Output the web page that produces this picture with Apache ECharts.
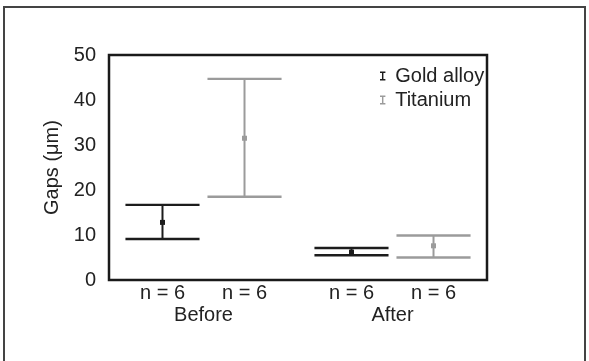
<!DOCTYPE html>
<html>
<head>
<meta charset="utf-8">
<style>html,body{margin:0;padding:0;background:#fff;}#c{width:589px;height:361px;}</style>
<script src="https://cdn.jsdelivr.net/npm/echarts@6/dist/echarts.min.js"></script>
</head>
<body>
<div id="c"></div>
<script>
var categories = ['Before', 'After'];
var goldMean = [12.8, 6.2];
var goldLow = [9.1, 5.5];
var goldHigh = [16.7, 7.1];
var tiMean = [31.5, 7.6];
var tiLow = [18.5, 5.0];
var tiHigh = [44.7, 9.9];
var goldN = [6, 6];
var tiN = [6, 6];
var yTicks = [0, 10, 20, 30, 40, 50];

var FONT = '"Liberation Sans", Arial, sans-serif';
var GOLD = '#1c1c1c';
var TI = '#9b9b9b';

function makeData(mean, low, high, n) {
  return categories.map(function (c, i) { return [i, low[i], mean[i], high[i], n[i]]; });
}

function makeRender(side, color) {
  return function (params, api) {
    var xi = api.value(0);
    var band = api.size([1, 0])[0];
    var off = side * 0.217 * band;
    var half = 0.196 * band;
    var pLow = api.coord([xi, api.value(1)]);
    var pMean = api.coord([xi, api.value(2)]);
    var pHigh = api.coord([xi, api.value(3)]);
    var pZero = api.coord([xi, 0]);
    var cx = pLow[0] + off;
    var ls = { stroke: color, lineWidth: 2.4, fill: null };
    return {
      type: 'group',
      children: [
        { type: 'line', shape: { x1: cx, y1: pLow[1], x2: cx, y2: pHigh[1] }, style: { stroke: color, lineWidth: 2 } },
        { type: 'line', shape: { x1: cx - half, y1: pLow[1], x2: cx + half, y2: pLow[1] }, style: ls },
        { type: 'line', shape: { x1: cx - half, y1: pHigh[1], x2: cx + half, y2: pHigh[1] }, style: ls },
        { type: 'rect', shape: { x: cx - 2.5, y: pMean[1] - 2.5, width: 5, height: 5 }, style: { fill: color } },
        { type: 'text', x: cx, y: pZero[1] + 13, style: { text: 'n = ' + api.value(4), fill: '#222', font: '20px ' + FONT, align: 'center', verticalAlign: 'middle' } }
      ]
    };
  };
}

var chart = echarts.init(document.getElementById('c'), null, { renderer: 'canvas' });
var ibeam = 'path://M0,0H6V1.6H3.8V8.4H6V10H0V8.4H2.2V1.6H0Z';
chart.setOption({
  animation: false,
  backgroundColor: '#fff',
  textStyle: { fontFamily: FONT },
  graphic: [
    { type: 'rect', shape: { x: 4, y: 7, width: 581, height: 400 }, style: { fill: null, stroke: '#444', lineWidth: 2 }, silent: true }
  ],
  grid: { left: 109, right: 102, top: 55, bottom: 81, show: true, borderColor: '#1a1a1a', borderWidth: 2.5, backgroundColor: 'transparent' },
  legend: {
    orient: 'vertical', left: 375, top: 61, itemWidth: 7, itemHeight: 9, itemGap: 4,
    textStyle: { fontSize: 20, color: '#222', fontFamily: FONT, padding: [0, 0, 0, 4] },
    data: [
      { name: 'Gold alloy', icon: ibeam, itemStyle: { color: GOLD } },
      { name: 'Titanium', icon: ibeam, itemStyle: { color: TI } }
    ]
  },
  xAxis: {
    type: 'category', data: categories, boundaryGap: true,
    axisLine: { show: false }, axisTick: { show: false }, splitLine: { show: false },
    axisLabel: { fontSize: 20, color: '#222', margin: 25, fontFamily: FONT }
  },
  yAxis: {
    type: 'value', min: yTicks[0], max: yTicks[yTicks.length - 1], interval: 10,
    name: 'Gaps (μm)', nameLocation: 'middle', nameGap: 41,
    nameTextStyle: { fontSize: 20, color: '#222', fontFamily: FONT },
    axisLine: { show: false }, axisTick: { show: false }, splitLine: { show: false },
    axisLabel: { fontSize: 20, color: '#222', margin: 13, fontFamily: FONT }
  },
  series: [
    { name: 'Gold alloy', type: 'custom', itemStyle: { color: GOLD }, renderItem: makeRender(-1, GOLD), data: makeData(goldMean, goldLow, goldHigh, goldN), encode: { x: 0, y: [1, 2, 3] }, clip: false },
    { name: 'Titanium', type: 'custom', itemStyle: { color: TI }, renderItem: makeRender(1, TI), data: makeData(tiMean, tiLow, tiHigh, tiN), encode: { x: 0, y: [1, 2, 3] }, clip: false }
  ]
});
</script>
</body>
</html>
